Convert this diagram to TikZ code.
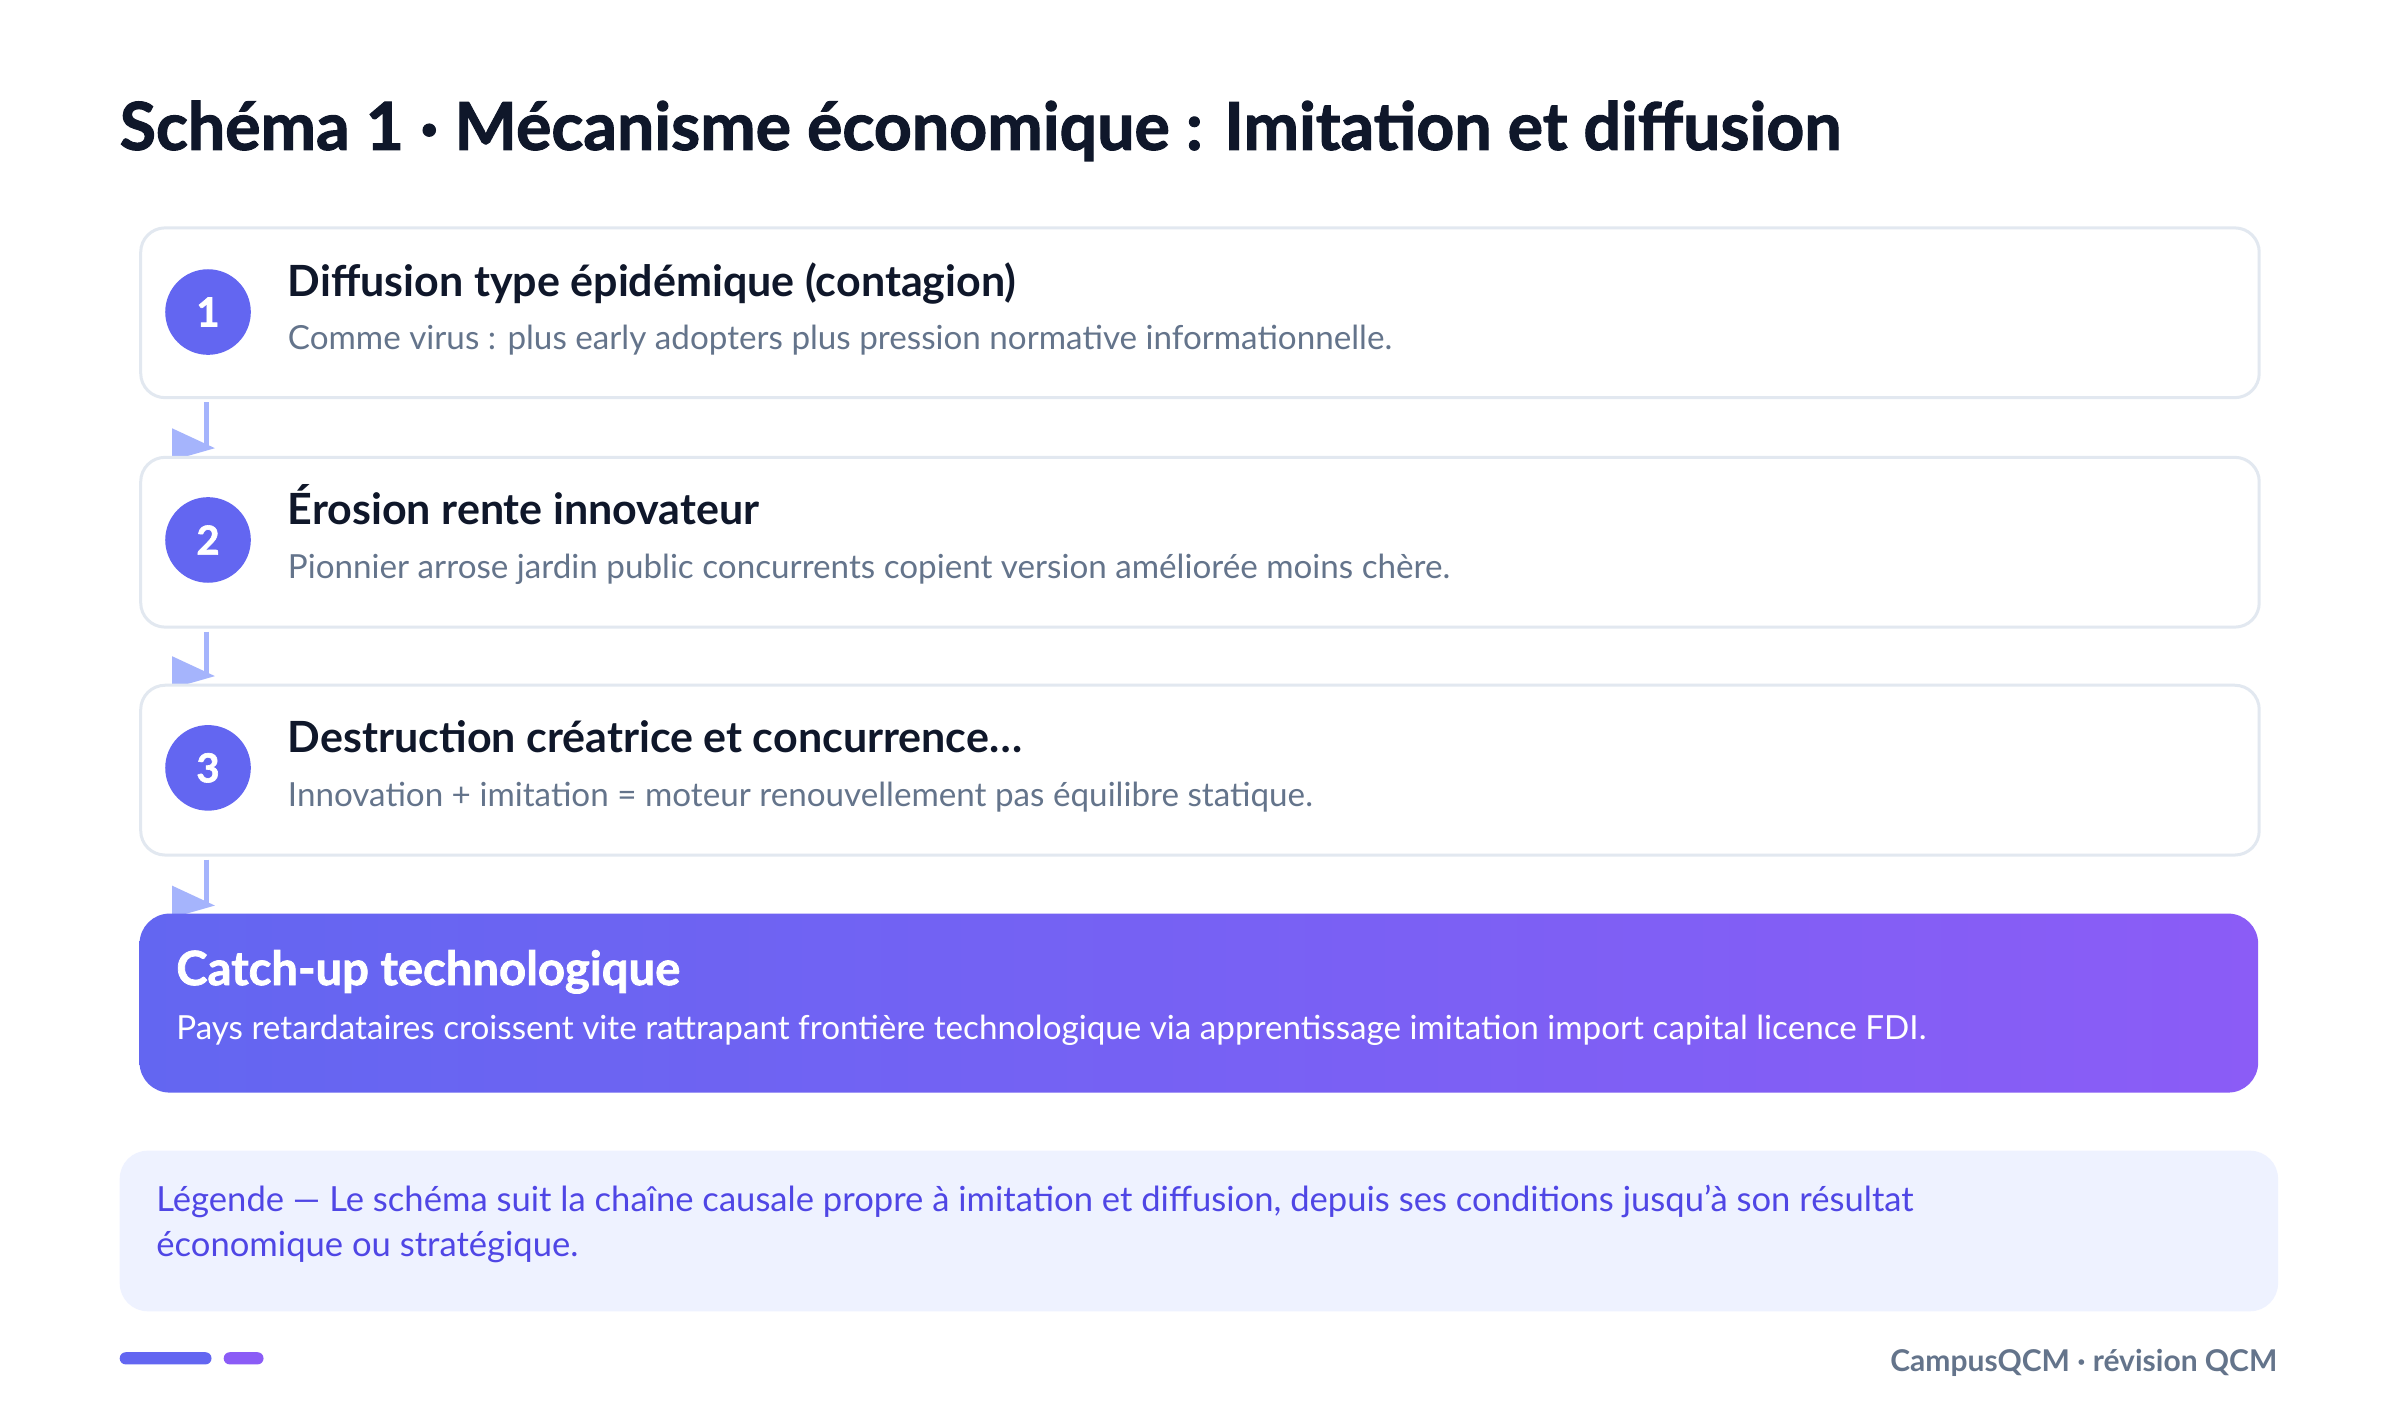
\documentclass[tikz,border=0pt]{standalone}
\usepackage{fontspec}
\setmainfont{Lato}
\newfontfamily\heavyfont{Lato}[BoldFeatures={FakeBold=1.6}]
\usetikzlibrary{calc}
\pgfdeclarelayer{back}
\pgfdeclarelayer{bg}
\pgfsetlayers{back,bg,main}
\definecolor{ink}{HTML}{0F172A}
\definecolor{muted}{HTML}{64748B}
\definecolor{cardline}{HTML}{E2E8F0}
\definecolor{indigo}{HTML}{6366F1}
\definecolor{violet}{HTML}{8B5CF6}
\definecolor{arrowc}{HTML}{A5B4FC}
\definecolor{legfill}{HTML}{EEF2FF}
\definecolor{legtext}{HTML}{4F46E5}
\tikzset{
  card/.style={draw=cardline, line width=1.5pt, fill=white, rounded corners=12.2pt,
    minimum width=1059.3pt, minimum height=84.9pt, inner sep=0pt, anchor=north west},
  badge/.style={circle, fill=indigo, minimum size=42.8pt, inner sep=0pt,
    text=white, font=\fontsize{20}{22}\selectfont\heavyfont\bfseries},
  ctitle/.style={anchor=base west, inner sep=0pt, text=ink, font=\fontsize{21.5}{25}\selectfont\bfseries},
  csub/.style={anchor=mid west, inner sep=0pt, text=muted, font=\fontsize{16.6}{20}\selectfont},
  conn/.style={draw=arrowc, line width=2.4pt},
  tipc/.style={fill=arrowc},
}
\begin{document}
\begin{tikzpicture}[x=0.76485pt, y=-0.76485pt]
\begin{pgfonlayer}{back}
\fill[white] (0,0) rectangle (1569,928.3);
\end{pgfonlayer}
\useasboundingbox (0,0) rectangle (1569,928.3);

\node[anchor=base west, inner sep=0pt, text=ink, font=\fontsize{33.1}{37}\selectfont\heavyfont\bfseries] (title) at (78,98)
  {Schéma 1 · Mécanisme économique : Imitation et diffusion};

% cards
\node[card] (b1) at (91,148) {};
\node[card] (b2) at (91,298) {};
\node[card] (b3) at (91,447) {};

\node[badge] (c1) at (136,204) {1};
\node[badge] (c2) at (136,353) {2};
\node[badge] (c3) at (136,502) {3};

\node[ctitle] (t1) at (188,194) {Diffusion type épidémique (contagion)};
\node[csub] (s1) at (188,225) {Comme virus : plus early adopters plus pression normative informationnelle.};
\node[ctitle] (t2) at (188,343) {Érosion rente innovateur};
\node[csub] (s2) at (188,375) {Pionnier arrose jardin public concurrents copient version améliorée moins chère.};
\node[ctitle] (t3) at (188,492) {Destruction créatrice et concurrence…};
\node[csub] (s3) at (188,524) {Innovation + imitation = moteur renouvellement pas équilibre statique.};

% final result
\node[anchor=north west, minimum width=1059.3pt, minimum height=89.5pt, inner sep=0pt,
      rounded corners=15pt, left color=indigo, right color=violet] (b4) at (91,597) {};
\node[anchor=base west, inner sep=0pt, text=white, font=\fontsize{23.6}{28}\selectfont\heavyfont\bfseries] (t4) at (115,644)
  {Catch-up technologique};
\node[anchor=mid west, inner sep=0pt, text=white, font=\fontsize{16.6}{20}\selectfont] (s4) at (115,676)
  {Pays retardataires croissent vite rattrapant frontière technologique via apprentissage imitation import capital licence FDI.};

% connectors (behind the cards)
\begin{pgfonlayer}{bg}
\foreach \a/\b/\c in {b1/b2/c1, b2/b3/c2, b3/b4/c3}{
  \draw[conn] ($(\a.south -| \c)+(-1,2)$) -- ($(\b.north -| \c)+(-1,-6)$);
  \fill[tipc] ($(\b.north -| \c)+(-23.5,-18)$) -- ($(\b.north -| \c)+(-23.5,3)$)
     -- ($(\b.north -| \c)+(4.5,-5)$) -- cycle;
}
\end{pgfonlayer}

% legend
\node[anchor=north west, minimum width=1079.2pt, minimum height=80.3pt, inner sep=0pt,
      rounded corners=14pt, fill=legfill] (leg) at (78,752) {};
\node[anchor=mid west, inner sep=0pt, text=legtext, font=\fontsize{17.3}{22}\selectfont] (legt1) at (102,789)
  {Légende — Le schéma suit la chaîne causale propre à imitation et diffusion, depuis ses conditions jusqu’à son résultat};
\node[anchor=mid west, inner sep=0pt, text=legtext, font=\fontsize{17.3}{22}\selectfont] (legt2) at (102,818)
  {économique ou stratégique.};

% footer
\node[anchor=west, minimum width=45.9pt, minimum height=6.1pt, inner sep=0pt,
      rounded corners=3pt, fill=indigo] (bar1) at (78,888) {};
\node[anchor=west, minimum width=19.9pt, minimum height=6.1pt, inner sep=0pt,
      rounded corners=3pt, fill=violet] (bar2) at (146,888) {};
\node[anchor=mid east, inner sep=0pt, text=muted, font=\fontsize{15}{18}\selectfont\bfseries] (foot) at (1489,893)
  {CampusQCM · révision QCM};
\end{tikzpicture}
\end{document}
